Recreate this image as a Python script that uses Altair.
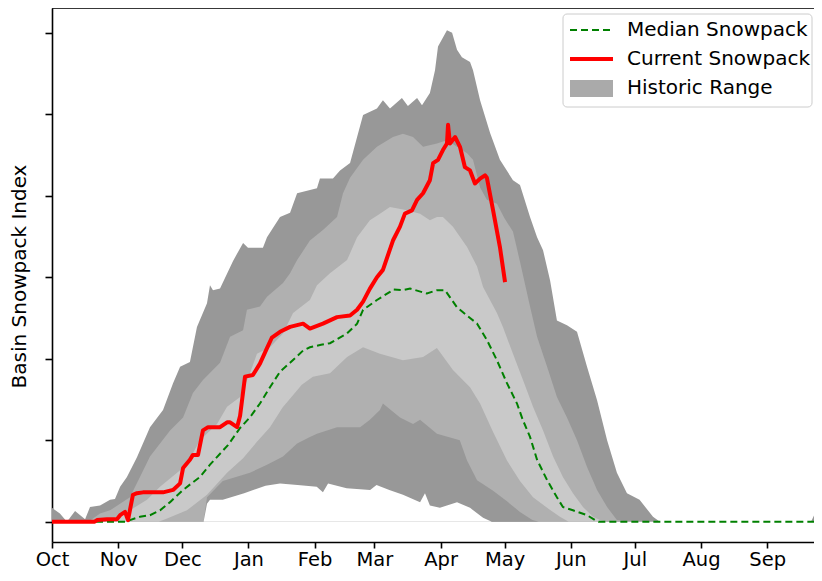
import altair as alt
import pandas as pd

# ---- data: (day of water year from Oct 1, basin snowpack index) ----
max_curve = [[0, 0.17], [3.7, 0.1], [7, 0.0], [10.8, 0.13], [15.5, 0.03], [17.8, 0.18], [22.5, 0.2],
             [27.2, 0.27], [29.5, 0.28], [31.9, 0.43], [35.1, 0.55], [39.8, 0.79], [45.9, 1.16],
             [52, 1.37], [56.7, 1.7], [60, 1.9], [64.6, 1.96], [67.9, 2.39], [72.6, 2.68], [74, 2.9],
             [75.4, 2.84], [78.7, 2.86], [84.8, 3.2], [89.5, 3.42], [91.8, 3.36], [98.8, 3.36],
             [100.7, 3.49], [106.8, 3.74], [111.5, 3.79], [114.8, 4.03], [124.1, 4.09], [125.5, 4.21],
             [131.6, 4.21], [134.9, 4.31], [139.6, 4.40], [142.9, 4.72], [145.7, 4.99], [152.2, 5.07],
             [155, 5.17], [158.3, 5.07], [163.9, 5.2], [166.7, 5.1], [171, 5.2], [173.3, 5.11],
             [177, 5.26], [179.4, 5.54], [180.8, 5.83], [185, 6.03], [187.4, 6.0], [189.7, 5.79],
             [192, 5.7], [195.8, 5.64], [197.2, 5.54], [200.5, 5.17], [205.2, 4.77], [209.8, 4.44],
             [215.9, 4.19], [219.2, 4.13], [223.9, 3.74], [227.2, 3.49], [230, 3.33], [233.3, 2.96],
             [236.5, 2.47], [241.2, 2.41], [245.9, 2.33], [250.6, 1.9], [255.3, 1.49], [260, 1.0],
             [264.6, 0.6], [269.3, 0.35], [275.2, 0.27], [281.5, 0.06], [284.7, 0.0], [355.5, 0.0],
             [360.7, 0.28]]

p90_curve = [[0, 0], [17, 0], [22.5, 0.1], [27.2, 0.14], [36.5, 0.3], [41.2, 0.55], [45.9, 0.8],
             [55.3, 1.12], [61.4, 1.28], [66, 1.58], [70.7, 1.74], [78.7, 1.95], [83.4, 2.27],
             [89.5, 2.35], [91.3, 2.6], [97.4, 2.64], [100.7, 2.76], [108.2, 2.93], [111.5, 3.05],
             [114.8, 3.21], [120.8, 3.45], [126.9, 3.58], [133.5, 3.74], [136.3, 4.03], [139.6, 4.22],
             [145.7, 4.44], [152.2, 4.6], [159.7, 4.72], [164.4, 4.76], [169.1, 4.72], [173.8, 4.6],
             [180.3, 4.64], [185, 4.68], [189.7, 4.6], [194.4, 4.52], [197.2, 4.44], [200.5, 4.1],
             [203.7, 3.95], [208.4, 3.9], [212, 3.72], [215.9, 3.56], [219.2, 3.19], [223.9, 2.64],
             [227.2, 2.27], [231.9, 1.9], [236.5, 1.53], [241.2, 1.28], [245.9, 1.0], [250.6, 0.67],
             [255.3, 0.39], [260, 0.18], [264.6, 0.02], [270, 0], [360.7, 0]]

p70_curve = [[0, 0], [25, 0], [27.2, 0.02], [36.5, 0.14], [44.5, 0.27], [50.6, 0.43], [60, 0.63],
             [66, 0.84], [69.3, 1.0], [77.3, 1.2], [82, 1.41], [88.1, 1.53], [92.7, 1.82], [96, 2.06],
             [102.1, 2.14], [108.2, 2.31], [112.9, 2.56], [120.8, 2.72], [124.1, 2.9], [130.2, 3.05],
             [138.2, 3.21], [142.9, 3.49], [148.9, 3.7], [153.6, 3.78], [158.3, 3.86], [166.3, 3.82],
             [172.4, 3.78], [177, 3.7], [180.3, 3.74], [183.1, 3.74], [187.8, 3.62], [194.4, 3.37],
             [199.1, 3.13], [201.9, 2.88], [208.4, 2.56], [211.2, 2.39], [215.9, 2.06], [220.6, 1.74],
             [225.3, 1.41], [230, 1.12], [234.7, 0.8], [239.3, 0.55], [244, 0.35], [248.7, 0.18],
             [253.4, 0.06], [256.7, 0.02], [260, 0], [360.7, 0]]

p30_curve = [[0, 0], [50, 0], [53.9, 0.04], [63.2, 0.14], [72.6, 0.33], [82, 0.6], [89.5, 0.78],
             [96, 0.98], [102.1, 1.16], [108, 1.4], [117, 1.68], [122.2, 1.78], [130.2, 1.82],
             [138.2, 2.02], [145.7, 2.14], [153.6, 2.06], [164.4, 1.98], [173.8, 2.02], [180.3, 2.13],
             [187.8, 1.86], [195.8, 1.65], [200.5, 1.45], [206.6, 1.1], [213.1, 0.75], [219.2, 0.5],
             [225.3, 0.3], [231.9, 0.17], [237.9, 0.06], [242, 0], [360.7, 0]]

p10_curve = [[0, 0], [71, 0], [72.6, 0.3], [80, 0.5], [92.7, 0.6], [100.7, 0.7], [108.2, 0.8],
             [114.8, 0.96], [120.8, 1.04], [124.1, 1.08], [133.5, 1.16], [144.3, 1.16], [148.9, 1.25],
             [153.6, 1.37], [155, 1.45], [163, 1.28], [169.1, 1.2], [172.4, 1.25], [180.3, 1.08],
             [191, 1.0], [194.4, 0.75], [199.1, 0.51], [206.6, 0.38], [213.1, 0.25], [219.2, 0.12],
             [225, 0.02], [228, 0], [360.7, 0]]

min_curve = [[0, 0], [71, 0], [72.6, 0.22], [74, 0.27], [80, 0.27], [90, 0.35], [100, 0.44],
             [106.8, 0.47], [115, 0.45], [124, 0.43], [126.9, 0.36], [129.3, 0.47], [138, 0.41],
             [149, 0.39], [152, 0.45], [158, 0.39], [164.4, 0.33], [172.4, 0.24], [174.7, 0.35],
             [177, 0.2], [181.7, 0.17], [189.7, 0.24], [195.8, 0.17], [201.9, 0.05], [206, 0],
             [360.7, 0]]

median_curve = [[0, 0], [35, 0], [36.5, 0.02], [41.2, 0.06], [45.9, 0.08], [50.6, 0.14], [55.3, 0.24],
                [61.4, 0.39], [69.3, 0.55], [74, 0.7], [82.4, 0.94], [88.1, 1.15], [92.7, 1.28],
                [97.4, 1.45], [102.1, 1.65], [106.8, 1.84], [111.5, 1.95], [117.6, 2.1], [120.8, 2.14],
                [126, 2.17], [130.2, 2.19], [138.2, 2.31], [142.9, 2.43], [145.7, 2.6], [152.2, 2.72],
                [158.3, 2.82], [159.7, 2.85], [164.4, 2.84], [167.7, 2.86], [175.6, 2.8], [180.3, 2.84],
                [184.1, 2.84], [189.7, 2.63], [195.8, 2.5], [199.1, 2.43], [203.7, 2.23], [208.4, 1.98],
                [213.1, 1.7], [217.8, 1.45], [220.5, 1.25], [223.9, 1.04], [227.2, 0.76], [231.9, 0.51],
                [236.5, 0.3], [239.3, 0.18], [244, 0.14], [250.6, 0.08], [254.3, 0.02], [256, 0],
                [360.7, 0]]

current_curve = [[0, 0], [20, 0], [21.1, 0.02], [25.8, 0.03], [30.4, 0.03], [31.9, 0.08], [34.2, 0.12],
                 [35.6, 0.02], [37.9, 0.33], [39.8, 0.35], [42.6, 0.36], [52, 0.36], [56.7, 0.39],
                 [60, 0.47], [61.4, 0.66], [64.6, 0.76], [66, 0.82], [68.4, 0.82], [70.7, 1.12],
                 [73.1, 1.16], [78.7, 1.16], [82, 1.22], [83.4, 1.22], [86.7, 1.16], [88.1, 1.3],
                 [90.4, 1.78], [94.1, 1.8], [97.4, 1.94], [100.7, 2.13], [103, 2.26], [106.8, 2.33],
                 [111.5, 2.39], [117.6, 2.43], [120.8, 2.37], [126.9, 2.43], [133.5, 2.51], [139.6, 2.53],
                 [142.9, 2.6], [145.7, 2.7], [148.9, 2.86], [152.2, 3.0], [155, 3.09], [159.7, 3.45],
                 [163, 3.62], [165.3, 3.78], [168.6, 3.82], [171, 3.95], [173.8, 4.03], [177, 4.19],
                 [178.5, 4.4], [180.8, 4.44], [183.1, 4.56], [185, 4.64], [185.5, 4.87], [186.4, 4.64],
                 [188.8, 4.72], [191.1, 4.6], [193.4, 4.35], [195.8, 4.31], [198.1, 4.15], [200.5, 4.21],
                 [202.8, 4.25], [203.7, 4.22], [206.6, 3.82], [209.8, 3.37], [212.2, 2.94]]

month_days = [0, 31, 61, 92, 123, 151, 182, 212, 243, 273, 304, 335]
month_names = ["Oct", "Nov", "Dec", "Jan", "Feb", "Mar", "Apr", "May", "Jun", "Jul", "Aug", "Sep"]
y_ticks = [0, 1, 2, 3, 4, 5, 6]
legend_labels = ["Median Snowpack", "Current Snowpack", "Historic Range"]

DARK = "#989898"
MID = "#b0b0b0"
LIGHT = "#c9c9c9"
FONT = "DejaVu Sans"
W, H = 762, 534
X_END = 762 / 2.135


def frame(pairs):
    return pd.DataFrame(pairs, columns=["day", "v"])


label_expr = "{}[indexof({}, datum.value)]".format(
    "[" + ",".join("'%s'" % m for m in month_names) + "]",
    "[" + ",".join(str(d) for d in month_days) + "]",
)

x_enc = alt.X("day:Q",
              scale=alt.Scale(domain=[0, X_END], nice=False, zero=False),
              axis=alt.Axis(values=month_days, labelExpr=label_expr, title=None, grid=False,
                            tickSize=6, tickWidth=1.6, tickColor="black", domainColor="black",
                            domainWidth=1.6, labelFontSize=19.5, labelFont=FONT, labelColor="black",
                            labelPadding=2, labelFlush=False, labelOverlap=False))
y_enc = alt.Y("v:Q",
              scale=alt.Scale(domain=[-0.249, 6.303], nice=False, zero=False),
              axis=alt.Axis(values=y_ticks, labels=False, grid=False, tickSize=7, tickWidth=1.6,
                            tickColor="black", domainColor="black", domainWidth=1.6,
                            title="Basin Snowpack Index", titleFontSize=20, titleFont=FONT,
                            titleFontWeight="normal", titleColor="black", titleAngle=270,
                            titleX=-27, titleY=268, titleBaseline="alphabetic",
                            titleAlign="center"))


def band(pairs, color):
    return alt.Chart(frame(pairs)).mark_area(color=color, opacity=1, interpolate="linear",
                                             clip=True).encode(
        x=x_enc, y=y_enc, y2=alt.datum(0))


layers = [
    band(max_curve, DARK),
    band(p90_curve, MID),
    band(p70_curve, LIGHT),
    band(p30_curve, MID),
    band(p10_curve, DARK),
    band(min_curve, "white"),
    alt.Chart(frame(median_curve)).mark_line(color="#008000", strokeWidth=2, strokeDash=[7, 4],
                                             clip=True).encode(x=x_enc, y=y_enc),
    alt.Chart(frame(current_curve)).mark_line(color="#ff0000", strokeWidth=4, strokeJoin="round",
                                              clip=True).encode(x=x_enc, y=y_enc),
]

one = pd.DataFrame({"a": [0]})
# top spine
layers.append(alt.Chart(one).mark_rule(color="black", strokeWidth=1.6).encode(
    x=alt.value(0), x2=alt.value(W), y=alt.value(0)))

# legend
layers.append(alt.Chart(one).mark_rect(fill="white", fillOpacity=0.8, stroke="#cccccc", strokeWidth=1,
                                       cornerRadius=4).encode(
    x=alt.value(511), x2=alt.value(760), y=alt.value(6), y2=alt.value(99)))
layers.append(alt.Chart(one).mark_rule(color="#008000", strokeWidth=2, strokeDash=[7, 4]).encode(
    x=alt.value(518), x2=alt.value(561), y=alt.value(22)))
layers.append(alt.Chart(one).mark_rule(color="#ff0000", strokeWidth=4).encode(
    x=alt.value(518), x2=alt.value(561), y=alt.value(51)))
layers.append(alt.Chart(one).mark_rect(color="#aaaaaa").encode(
    x=alt.value(518), x2=alt.value(561), y=alt.value(72), y2=alt.value(89)))
for lbl, yy in zip(legend_labels, [22, 51, 80]):
    layers.append(alt.Chart(one).mark_text(align="left", baseline="middle", fontSize=20, font=FONT,
                                           color="black").encode(
        x=alt.value(575), y=alt.value(yy), text=alt.value(lbl)))

chart = alt.layer(*layers).properties(
    width=W, height=H,
    autosize=alt.AutoSizeParams(type="none"),
    padding={"left": 44, "top": 0, "right": 0, "bottom": 30},
).configure_view(stroke=None).configure(font=FONT)

chart.save("out.html", embed_options={"renderer": "svg", "actions": False})
